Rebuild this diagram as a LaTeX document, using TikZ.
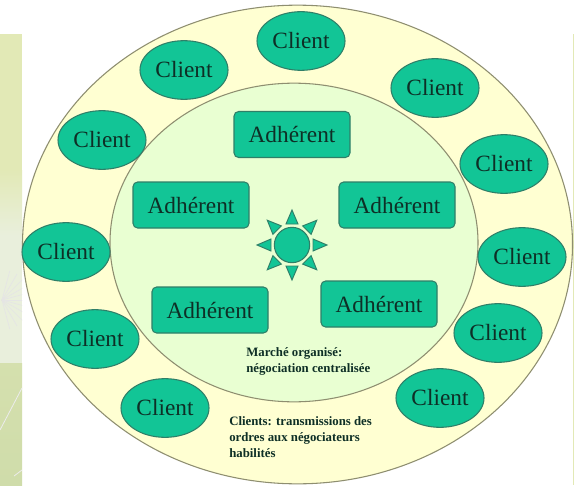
\documentclass[tikz,border=0pt]{standalone}
\usepackage{fontspec}
\setmainfont{Liberation Serif}
\usetikzlibrary{shapes.geometric}
\definecolor{teal1}{HTML}{12C596}
\definecolor{edge1}{HTML}{2F7F68}
\definecolor{cream}{HTML}{FFFFD2}
\definecolor{mint}{HTML}{E9FFD2}
\definecolor{ringline}{HTML}{8E8E70}
\definecolor{ink}{HTML}{0E2F26}
\definecolor{panelA}{HTML}{E2E9B6}
\definecolor{panelB}{HTML}{E9EFDC}
\definecolor{panelC}{HTML}{CFDCAA}
\tikzset{
  x=0.75pt,y=-0.75pt,
  client/.style={ellipse,draw=edge1,fill=teal1,line width=0.8pt,minimum width=66pt,minimum height=44pt,inner sep=0pt,text=ink,font=\fontsize{17.5}{20}\selectfont},
  adh/.style={rectangle,rounded corners=3.5pt,draw=edge1,fill=teal1,line width=0.8pt,minimum width=87pt,minimum height=34.5pt,inner sep=0pt,text=ink,font=\fontsize{17.5}{20}\selectfont},
  ray/.style={draw=edge1,fill=teal1,line width=0.7pt},
  note/.style={anchor=north west,inner sep=0pt,align=left,text=ink,font=\bfseries\fontsize{9.6}{12.2}\selectfont},
  ring/.style={draw=ringline,line width=0.8pt},
}
\begin{document}
\begin{tikzpicture}
\useasboundingbox (0,0) rectangle (574,485);
\fill[white] (0,0) rectangle (574,485);
% decorative left panel
\begin{scope}
\clip (0,34) rectangle (22,485);
\fill[panelA] (0,34) rectangle (22,170);
\shade[top color=panelA,bottom color=panelB] (0,170) rectangle (22,235);
\fill[panelB] (0,235) rectangle (22,363);
\shade[top color=panelC!70!panelA,bottom color=panelC] (0,363) rectangle (22,485);
\foreach \a in {-75,-60,...,75}{
  \draw[black!10,line width=0.5pt] (2,300) -- ++(\a:30);
}
\draw[white!85!gray,line width=0.6pt] (0,430) -- (22,388);
\draw[white!85!gray,line width=0.6pt] (14,476) -- (22,470);
\end{scope}
\fill[panelA] (573.2,34) rectangle (574,485);
% rings
\node[ellipse,ring,fill=cream,minimum width=412.5pt,minimum height=359pt,inner sep=0pt] (outer) at (297.5,244.5) {};
\node[ellipse,ring,fill=mint,minimum width=276pt,minimum height=239pt,inner sep=0pt] (inner) at (294,242.5) {};
% clients
\node[client] (c1) at (301,41) {Client};
\node[client] (c2) at (184,70) {Client};
\node[client] (c3) at (435,88) {Client};
\node[client] (c4) at (102,140) {Client};
\node[client] (c5) at (504,164) {Client};
\node[client] (c6) at (66,252) {Client};
\node[client] (c7) at (522,257) {Client};
\node[client] (c8) at (95,339) {Client};
\node[client] (c9) at (498,333) {Client};
\node[client] (c10) at (165,408) {Client};
\node[client] (c11) at (440,398) {Client};
% adherents
\node[adh] (a1) at (292,134.5) {Adhérent};
\node[adh] (a2) at (191,205) {Adhérent};
\node[adh] (a3) at (397,205) {Adhérent};
\node[adh] (a4) at (210,310) {Adhérent};
\node[adh] (a5) at (379,304) {Adhérent};
% sun
\node[circle,draw=edge1,fill=teal1,line width=0.8pt,minimum size=26.5pt,inner sep=0pt] (sun) at (292,245) {};
\foreach \a in {0,45,...,315}{
  \draw[ray,shift={(292,245)},rotate=\a] (21,-6) -- (35,0) -- (21,6) -- cycle;
}
% notes
\node[note] (n1) at (246,347) {Marché organisé:\\négociation centralisée};
\node[note] (n2) at (229,416) {Clients: transmissions des\\ordres aux négociateurs\\habilités};
\end{tikzpicture}
\end{document}
